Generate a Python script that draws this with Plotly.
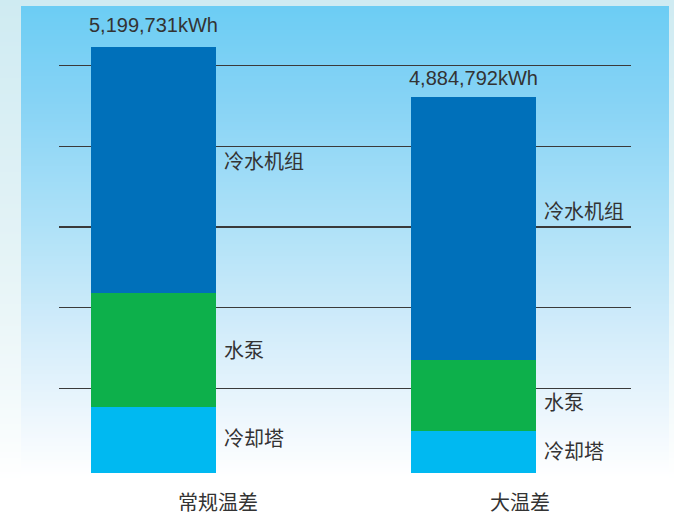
import plotly.graph_objects as go

# ---- data ----
categories = ["常规温差", "大温差"]
series_names = ["冷却塔", "水泵", "冷水机组"]
cooling_tower = [0.818, 0.520]
water_pump = [1.416, 0.880]
chiller = [3.045, 3.259]
total_labels = ["5,199,731kWh", "4,884,792kWh"]
grid_values = [1.05, 2.05, 3.05, 4.05, 5.05]

colors = ["#00B9F1", "#0DB04B", "#0070BA"]
series_values = [cooling_tower, water_pump, chiller]

W, H = 674, 516
ML, MR, MT, MB = 59, 43, 6, 43
PW, PH = W - ML - MR, H - MT - MB
px_per_unit = 80.7
yrange = [0, PH / px_per_unit]
bar_w = 0.39

fig = go.Figure()
for name, vals, col in zip(series_names, series_values, colors):
    fig.add_trace(go.Bar(x=categories, y=vals, name=name, width=bar_w,
                         marker=dict(color=col, line=dict(width=0)),
                         hoverinfo="skip"))

# ---- background gradient via bands ----
def interp(stops, py):
    for (y0, c0), (y1, c1) in zip(stops, stops[1:]):
        if y0 <= py <= y1:
            t = (py - y0) / (y1 - y0)
            return tuple(round(a + (b - a) * t) for a, b in zip(c0, c1))
    return stops[-1][1] if py > stops[-1][0] else stops[0][1]

def to_px(x):
    return (x - ML) / PW

def to_py(y):
    return (H - MB - y) / PH

shapes = []
outer = [(0, (207, 235, 242)), (250, (228, 243, 246)), (400, (243, 250, 251)), (482, (255, 255, 255))]
inner = [(6, (108, 205, 244)), (100, (134, 211, 245)), (230, (176, 226, 248)),
         (330, (210, 236, 250)), (420, (238, 247, 253)), (478, (255, 255, 255))]
step = 2
for y in range(0, 482, step):
    c = interp(outer, y + step / 2)
    shapes.append(dict(type="rect", xref="paper", yref="paper", layer="below",
                       x0=to_px(0), x1=to_px(W), y0=to_py(y + step + 0.5), y1=to_py(y),
                       fillcolor="rgb(%d,%d,%d)" % c, line=dict(width=0)))
for y in range(6, 478, step):
    c = interp(inner, y + step / 2)
    shapes.append(dict(type="rect", xref="paper", yref="paper", layer="below",
                       x0=to_px(21), x1=to_px(669), y0=to_py(y + step + 0.5), y1=to_py(y),
                       fillcolor="rgb(%d,%d,%d)" % c, line=dict(width=0)))

# ---- annotations ----
annotations = []
text_col = "#333333"
cjk = "Noto Sans CJK SC"
seg_shift = [[2, 0, 9], [2, -6, 18]]  # per category: cooling, pump, chiller
for i, cat in enumerate(categories):
    base = 0
    for k, (name, vals) in enumerate(zip(series_names, series_values)):
        mid = base + vals[i] / 2
        base += vals[i]
        annotations.append(dict(x=i + bar_w / 2, y=mid, xref="x", yref="y", text=name,
                                showarrow=False, xanchor="left", yanchor="middle",
                                xshift=6, yshift=seg_shift[i][k],
                                font=dict(family=cjk, size=20, color=text_col)))
    annotations.append(dict(x=i, y=base, xref="x", yref="y", text=total_labels[i],
                            showarrow=False, xanchor="center", yanchor="bottom",
                            yshift=[9, 6][i],
                            font=dict(family="Liberation Sans, Arial", size=20, color=text_col)))
    annotations.append(dict(x=i, y=0, xref="x", yref="y", text=cat, showarrow=False,
                            xanchor="center", yanchor="middle", xshift=[65, 47][i], yshift=-28,
                            font=dict(family=cjk, size=20, color=text_col)))

xr0 = -94.2 / 320
xr1 = 1 + 157.5 / 320
fig.update_layout(
    width=W, height=H, barmode="stack", showlegend=False,
    margin=dict(l=ML, r=MR, t=MT, b=MB, pad=0),
    paper_bgcolor="white", plot_bgcolor="rgba(0,0,0,0)",
    xaxis=dict(type="category", range=[xr0, xr1], showticklabels=False, showgrid=False,
               zeroline=False, showline=False, ticks=""),
    yaxis=dict(range=yrange, tickvals=grid_values, showticklabels=False, showgrid=True,
               gridcolor="#3a3a3a", gridwidth=1.3, zeroline=False, showline=False, ticks=""),
    shapes=shapes, annotations=annotations,
)
fig.write_html("out.html", config={"displayModeBar": False, "staticPlot": True},
               post_script="document.body.style.margin='0px';document.body.style.overflow='hidden';")
